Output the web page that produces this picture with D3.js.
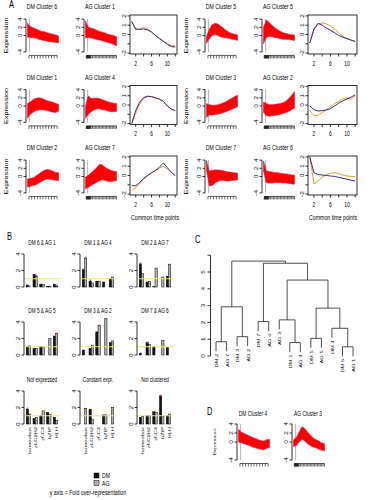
<!DOCTYPE html>
<html>
<head>
<meta charset="utf-8">
<script src="https://cdn.jsdelivr.net/npm/d3@7"></script>
<style>
body { margin: 0; background: #fff; }
svg text { font-family: "Liberation Sans", Arial, sans-serif; }
</style>
</head>
<body>
<script>
// ---- panel A / D : cluster profiles (envelope of the gene lines)
var bandT = [0, 2, 4, 6, 8, 10, 12, 14, 16, 18, 20, 22];
var dmTicks = [1, 3, 5, 7, 9, 11, 13, 15, 17, 19, 21];
var agTicks = [0.5, 0.8, 1.1, 1.4, 1.7, 2.0, 2.3, 2.6, 2.9, 3.2, 3.5, 4, 5, 6, 7, 8, 9, 10, 11, 12, 13, 14, 15, 16, 17, 18, 19, 20, 21, 22];
var stageMark = 1.5;
var clYTicks = [-4, 0, 2, 4];

// DM clusters 1..7
var dmHi = [
  [0.6, 1.0, 1.6, 1.9, 2.0, 1.9, 1.6, 1.3, 1.1, 0.9, 0.6, 0.4],
  [-0.6, -0.5, -0.3, 0.1, 0.6, 1.1, 1.5, 1.7, 1.6, 1.3, 1.0, 0.9],
  [0.6, 0.3, 0.2, 0.2, 0.3, 0.5, 0.8, 1.1, 1.5, 1.9, 2.3, 2.6],
  [2.8, 2.2, 1.9, 1.6, 1.3, 1.0, 0.8, 0.5, 0.3, 0.2, 0.5, 0.6],
  [-0.2, 1.5, 2.6, 3.0, 2.8, 2.3, 1.8, 1.2, 0.8, 0.5, 0.3, 0.1],
  [3.0, 2.2, 1.9, 1.6, 1.3, 1.0, 0.9, 0.7, 0.5, 0.3, 0.1, -0.1],
  [3.9, 1.3, 1.5, 1.6, 1.6, 1.5, 1.4, 1.2, 1.1, 1.0, 0.9, 0.8]
];
var dmLo = [
  [-3.0, -2.0, -1.5, -1.1, -1.0, -0.9, -1.0, -1.1, -1.3, -1.5, -1.6, -1.3],
  [-2.6, -2.4, -2.2, -2.0, -1.6, -1.2, -0.8, -0.6, -0.7, -0.8, -0.9, -1.0],
  [-2.8, -2.2, -2.2, -2.1, -2.0, -1.8, -1.6, -1.4, -1.1, -0.8, -0.5, -0.2],
  [0.0, -0.2, -0.4, -0.6, -0.8, -1.1, -1.3, -1.5, -1.6, -1.7, -1.4, -1.2],
  [-1.9, -0.8, 0.0, 0.3, 0.0, -0.3, -0.5, -0.6, -0.7, -0.9, -1.0, -1.2],
  [-0.4, -0.5, -0.5, -0.7, -0.9, -1.1, -1.2, -1.4, -1.5, -1.6, -1.7, -1.8],
  [1.5, -2.3, -2.2, -1.6, -1.2, -1.0, -1.0, -1.1, -1.1, -1.0, -0.9, -0.8]
];
// AG clusters 1..7
var agHi = [
  [3.5, 2.0, 1.8, 1.6, 1.3, 1.0, 0.8, 0.6, 0.3, 0.1, 0.0, -0.3],
  [1.0, 0.6, 0.3, 0.3, 0.4, 0.5, 0.6, 0.8, 1.2, 1.8, 2.6, 3.5],
  [0.5, 1.0, 2.2, 3.4, 3.0, 2.2, 1.5, 0.9, 0.5, 0.2, -0.2, -0.4],
  [0.0, 2.5, 1.8, 1.9, 1.9, 1.8, 1.5, 1.3, 1.0, 0.8, 0.7, 0.6],
  [2.0, 3.8, 3.2, 2.5, 1.9, 1.4, 1.0, 0.7, 0.5, 0.3, 0.2, 0.1],
  [3.8, 1.4, 1.2, 1.1, 1.0, 0.9, 0.8, 0.7, 0.6, 0.5, 0.4, 0.3],
  [-0.2, 0.3, 0.9, 1.5, 2.2, 3.0, 2.8, 2.2, 1.8, 1.5, 1.3, 1.2]
];
var agLo = [
  [-0.6, -0.5, -0.6, -0.8, -1.0, -1.1, -1.3, -1.5, -1.7, -1.9, -2.2, -2.5],
  [-1.5, -2.3, -2.5, -2.4, -2.3, -2.2, -2.0, -1.8, -1.6, -1.3, -0.9, -0.5],
  [-1.0, -0.8, 0.0, 0.6, 0.2, -0.4, -0.8, -1.1, -1.3, -1.6, -1.8, -2.0],
  [-3.0, -2.0, -1.4, -1.0, -0.7, -0.7, -0.9, -1.0, -1.2, -1.4, -1.4, -1.3],
  [-2.0, -0.5, -0.2, -0.3, -0.5, -0.6, -0.8, -0.9, -0.9, -1.0, -1.1, -1.2],
  [1.2, -1.5, -1.6, -1.6, -1.5, -1.5, -1.5, -1.6, -1.6, -1.7, -1.8, -1.9],
  [-3.0, -2.6, -2.2, -1.8, -1.4, -1.0, -0.8, -1.0, -1.2, -1.2, -1.1, -1.0]
];

// pairs shown in panel A (left group rows, then right group rows)
var pairDM = [6, 1, 2, 5, 3, 7];
var pairAG = [1, 4, 7, 5, 2, 6];
var meanT = [1, 2, 3, 4, 5, 6, 7, 8, 9, 10, 11, 12];
var meanDM = [
  [1.4, 0.5, 0.6, 0.75, 0.6, 0.3, -0.1, -0.4, -0.7, -1.0, -1.2, -1.2],
  [-2.0, -0.9, 0.1, 0.7, 0.9, 0.9, 0.8, 0.6, 0.35, -0.1, -0.4, -0.6],
  [-1.6, -1.3, -0.9, -0.4, -0.05, 0.25, 0.5, 0.8, 1.0, 0.7, 0.3, 0.0],
  [-0.9, 0.5, 1.1, 1.25, 1.15, 0.9, 0.6, 0.2, -0.2, -0.4, -0.6, -0.75],
  [-0.6, -1.15, -1.1, -0.8, -0.5, -0.2, 0.15, 0.4, 0.65, 0.8, 0.6, 1.0],
  [2.0, -0.9, -0.6, -0.2, 0.1, 0.25, 0.3, 0.2, 0.05, -0.05, -0.1, -0.1]
];
var meanAG = [
  [1.4, 0.6, 0.55, 0.6, 0.5, 0.25, -0.1, -0.45, -0.75, -1.05, -1.3, -1.35],
  [-2.0, -0.6, 0.3, 0.8, 0.95, 0.9, 0.75, 0.65, 0.4, -0.1, -0.45, -0.6],
  [-1.1, -1.1, -0.75, -0.3, 0.0, 0.3, 0.55, 0.9, 1.35, 0.85, 0.35, 0.0],
  [-0.9, 0.6, 1.2, 1.0, 0.7, 0.45, 0.2, -0.1, -0.3, -0.45, -0.6, -0.75],
  [-0.1, -0.5, -0.65, -0.6, -0.55, -0.4, -0.1, 0.2, 0.45, 0.65, 0.85, 1.1],
  [2.0, 0.3, 0.1, 0.05, 0.0, -0.05, -0.1, -0.2, -0.3, -0.4, -0.5, -0.6]
];
var meanYTicks = [-2, -1, 0, 1, 2];
var meanYLabels = ["-2", "", "0", "1", "2"];
var meanXTicks = [2, 4, 6, 8, 10, 12];
var meanXLabels = ["2", "", "6", "", "10", ""];

// ---- panel B : fold over-representation of TF families
var barTitles = ["DM 6 & AG 1", "DM 1 & AG 4", "DM 2 & AG 7", "DM 5 & AG 5", "DM 3 & AG 2", "DM 7 & AG 6", "Not expressed", "Constant expr.", "Not clustered"];
var families = ["homeobox", "zf-C2H2", "zf-C4", "bZIP", "HLH"];
var barDM = [
  [0.25, 1.5, 0.35, 0.05, 0.35],
  [2.1, 0.7, 0.7, 0.6, 1.0],
  [2.8, 0.6, 0.05, 0.0, 1.3],
  [1.0, 0.8, 1.0, 0.0, 2.3],
  [0.6, 0.8, 2.8, 0.0, 1.5],
  [0.2, 1.5, 1.0, 0.0, 0.9],
  [1.8, 0.7, 1.0, 1.4, 0.8],
  [0.0, 1.8, 0.0, 1.1, 0.0],
  [0.8, 1.0, 1.5, 3.4, 1.0]
];
var barAG = [
  [0.0, 1.3, 0.3, 0.05, 0.1],
  [3.5, 0.5, 0.7, 0.0, 1.2],
  [1.6, 0.7, 2.3, 1.2, 2.7],
  [1.1, 0.8, 0.95, 2.0, 2.6],
  [0.0, 1.2, 3.6, 4.4, 1.7],
  [0.0, 1.3, 0.0, 1.8, 0.0],
  [1.2, 0.8, 1.6, 1.2, 0.4],
  [1.9, 0.6, 0.0, 1.1, 2.0],
  [0.9, 1.0, 1.4, 0.9, 1.2]
];
// [panel, family, series (0 DM, 1 AG), colour]
var barStars = [
  [0, 0, 1, "blue"], [0, 1, 1, "red"], [0, 4, 1, "blue"],
  [1, 0, 1, "red"], [1, 1, 0, "blue"],
  [2, 0, 0, "red"], [2, 4, 1, "red"],
  [3, 4, 1, "red"],
  [4, 2, 1, "red"],
  [5, 0, 0, "blue"], [5, 1, 0, "red"],
  [6, 0, 0, "red"],
  [8, 3, 0, "red"]
];
var barYTicks = [0, 2, 4];
var foldRef = 1;

// ---- panel C : dendrogram of clusters (R hclust style merge table)
var leafNames = ["DM 2", "AG 7", "DM 3", "AG 2", "DM 7", "AG 6", "AG 3", "DM 1", "AG 4", "DM 5", "AG 5", "DM 4", "DM 6", "AG 1"];
var merges = [[-13, -14], [-8, -9], [-1, -2], [-10, -11], [-3, -4], [-12, 1], [-5, -6], [-7, 2], [4, 6], [3, 5], [8, 9], [7, 11], [10, 12]];
var mergeHeights = [0.55, 0.8, 0.85, 1.05, 1.15, 1.65, 2.05, 2.15, 2.85, 2.93, 4.52, 5.52, 5.65];
var dendroTicks = [0, 1, 2, 3, 4, 5, 6];
var dendroLabels = ["0", "1", "2", "3", "4", "5", ""];

// ---- panel D
var panelDdm = 4, panelDag = 3;

var W = 371, H = 500;
var SX = 0.75; // the figure is squeezed horizontally
var orange = "#e89a2c", blue = "#2e2a8e";

var svg = d3.select("body").append("svg").attr("width", W).attr("height", H);

function label(g, x, y, s, size, anchor, rot, color) {
  return g.append("text")
    .attr("transform", "translate(" + x + "," + y + ") scale(" + SX + ",1)" + (rot ? " rotate(-90)" : ""))
    .attr("font-size", size)
    .attr("text-anchor", anchor || "middle")
    .attr("fill", color || "#000")
    .text(s);
}

function seg(g, x1, y1, x2, y2, col, w) {
  g.append("line").attr("x1", x1).attr("y1", y1).attr("x2", x2).attr("y2", y2)
    .attr("stroke", col || "#000").attr("stroke-width", w || 0.8);
}

function clusterPanel(ax, zeroY, unit, title, hi, lo, ticks, tSize, lSize) {
  var g = svg.append("g");
  var x = d3.scaleLinear().domain([0, 22]).range([ax + 1.5, ax + 32.5]);
  var y = d3.scaleLinear().domain([-4, 4]).range([zeroY + 4 * unit, zeroY - 4 * unit]);
  seg(g, x(stageMark), y(-4), x(stageMark), y(4), "#a0a0a0", 0.8);
  var area = d3.area()
    .x(function(d, i) { return x(bandT[i]); })
    .y0(function(d, i) { return y(lo[i]); })
    .y1(function(d, i) { return y(hi[i]); });
  g.append("path").datum(hi).attr("d", area)
    .attr("fill", "#ff0000").attr("stroke", "#f0104a").attr("stroke-width", 0.6);
  seg(g, ax, y(-4), ax, y(4));
  clYTicks.forEach(function(v) {
    seg(g, ax - 2.5, y(v), ax, y(v));
    label(g, ax - 4, y(v), String(v), lSize, "middle", true);
  });
  var ty = y(-4) + 3.5;
  seg(g, x(ticks[0]), ty, x(ticks[ticks.length - 1]), ty, "#000", 0.6);
  ticks.forEach(function(t) { seg(g, x(t), ty, x(t), ty + 3, "#000", 0.6); });
  label(g, ax + 16, zeroY - 26.5, title, tSize, "middle");
}

function meanPanel(bx0, bx1, top, bot, dm, ag) {
  var g = svg.append("g");
  var x = d3.scaleLinear().domain([0.56, 12.44]).range([bx0, bx1]);
  var y = d3.scaleLinear().domain([-2.1, 2.1]).range([bot, top]);
  var line = d3.line().x(function(d, i) { return x(meanT[i]); }).y(function(d) { return y(d); });
  g.append("path").datum(dm).attr("d", line).attr("fill", "none").attr("stroke", orange).attr("stroke-width", 1);
  g.append("path").datum(ag).attr("d", line).attr("fill", "none").attr("stroke", blue).attr("stroke-width", 1);
  g.append("rect").attr("x", bx0).attr("y", top).attr("width", bx1 - bx0).attr("height", bot - top)
    .attr("fill", "none").attr("stroke", "#000").attr("stroke-width", 0.8);
  meanYTicks.forEach(function(v, i) {
    seg(g, bx0 - 2.5, y(v), bx0, y(v));
    if (meanYLabels[i]) label(g, bx0 - 4, y(v), meanYLabels[i], 6.5, "middle", true);
  });
  meanXTicks.forEach(function(v, i) {
    seg(g, x(v), bot, x(v), bot + 2.5);
    if (meanXLabels[i]) label(g, x(v), bot + 11.5, meanXLabels[i], 6.5, "middle");
  });
}

// ---------------- panel A
label(svg, 9, 8, "A", 10, "start");
var groups = [
  { dm: 26, ag: 84, box: [130, 177], lab: 155 },
  { dm: 205, ag: 262, box: [308, 357], lab: 333 }
];
groups.forEach(function(gr, gi) {
  for (var r = 0; r < 3; r++) {
    var k = gi * 3 + r;
    var zero = 35.5 + 70.5 * r;
    clusterPanel(gr.dm, zero, 4.1, "DM Cluster " + pairDM[k], dmHi[pairDM[k] - 1], dmLo[pairDM[k] - 1], dmTicks, 7, 6.5);
    clusterPanel(gr.ag, zero, 4.1, "AG Cluster " + pairAG[k], agHi[pairAG[k] - 1], agLo[pairAG[k] - 1], agTicks, 7, 6.5);
    meanPanel(gr.box[0], gr.box[1], 15 + 70.5 * r, 54 + 70.5 * r, meanDM[k], meanAG[k]);
  }
  label(svg, gr.lab, 220, "Common time points", 7, "middle");
});
for (var r = 0; r < 3; r++) {
  label(svg, 7.5, 35.5 + 70.5 * r, "Expression", 7.3, "middle", true);
  label(svg, 188, 35.5 + 70.5 * r, "Expression", 7.3, "middle", true);
}

// ---------------- panel B
label(svg, 7, 240, "B", 10, "start");
var U = 2.25;
var colX = [24, 80, 137];
var rowZero = [287, 355, 424];
function barPanel(x0, zeroY, k, showCats) {
  var g = svg.append("g");
  var xb = d3.scaleBand().domain(families).range([x0, x0 + 16 * U]).paddingInner(1 / 3).paddingOuter(1 / 3);
  var xs = d3.scaleBand().domain([0, 1]).range([0, xb.bandwidth()]);
  var y = d3.scaleLinear().domain([0, 4]).range([zeroY, zeroY - 33]);
  var vals = [barDM[k], barAG[k]];
  [0, 1].forEach(function(s) {
    g.selectAll(null).data(vals[s]).enter().append("rect")
      .attr("x", function(d, i) { return xb(families[i]) + xs(s); })
      .attr("y", function(d) { return y(d); })
      .attr("width", xs.bandwidth())
      .attr("height", function(d) { return zeroY - y(d); })
      .attr("fill", s === 0 ? "#151515" : "#b0b0b0")
      .attr("stroke", "#000").attr("stroke-width", 0.5);
  });
  seg(g, x0, y(foldRef), x0 + 16 * U, y(foldRef), "#ecec70", 1.2);
  seg(g, x0, y(0), x0, y(4));
  barYTicks.forEach(function(v) {
    seg(g, x0 - 2.5, y(v), x0, y(v));
    label(g, x0 - 4, y(v), String(v), 6, "middle", true);
  });
  barStars.filter(function(s) { return s[0] === k; }).forEach(function(s) {
    var v = vals[s[2]][s[1]];
    label(g, xb(families[s[1]]) + xs(s[2]) + xs.bandwidth() / 2, y(v) + 3.2, "*", 8, "middle", false,
      s[3] === "red" ? "#d0384c" : "#3a40c8");
  });
  label(g, x0 + 8 * U, zeroY - 42, barTitles[k], 6.3, "middle");
  if (showCats) {
    families.forEach(function(f) {
      label(g, xb(f) + xb.bandwidth() / 2 + 2, zeroY + 3, f, 5.8, "end", true);
    });
  }
}
for (var br = 0; br < 3; br++) {
  for (var bc = 0; bc < 3; bc++) {
    barPanel(colX[bc], rowZero[br], br * 3 + bc, br === 2);
  }
}
svg.append("rect").attr("x", 94).attr("y", 473).attr("width", 5).attr("height", 5).attr("fill", "#151515").attr("stroke", "#000").attr("stroke-width", 0.5);
svg.append("rect").attr("x", 94).attr("y", 480.5).attr("width", 5).attr("height", 5).attr("fill", "#b0b0b0").attr("stroke", "#000").attr("stroke-width", 0.5);
label(svg, 102, 478.3, "DM", 6.8, "start");
label(svg, 102, 485.8, "AG", 6.8, "start");
label(svg, 88, 495, "y axis = Fold over-representation", 7, "middle");

// ---------------- panel C
label(svg, 195, 243, "C", 10, "start");
(function() {
  var g = svg.append("g");
  var dx = d3.scaleLinear().domain([1, 14]).range([216, 353]);
  var dy = d3.scaleLinear().domain([0, 6]).range([356, 255.2]);
  var hang = 0.1 * d3.max(mergeHeights);
  var nodeX = [];
  seg(g, 210.5, dy(0), 210.5, dy(6));
  dendroTicks.forEach(function(v, i) {
    seg(g, 207.5, dy(v), 210.5, dy(v));
    if (dendroLabels[i]) label(g, 205, dy(v), dendroLabels[i], 6.3, "middle", true);
  });
  merges.forEach(function(m, i) {
    var h = mergeHeights[i];
    var xs = m.map(function(c) { return c < 0 ? dx(-c) : nodeX[c - 1]; });
    var tops = m.map(function(c) { return c < 0 ? h - hang : mergeHeights[c - 1]; });
    nodeX[i] = (xs[0] + xs[1]) / 2;
    seg(g, xs[0], dy(h), xs[1], dy(h), "#222", 0.8);
    for (var j = 0; j < 2; j++) {
      seg(g, xs[j], dy(tops[j]), xs[j], dy(h), "#222", 0.8);
      if (m[j] < 0) label(g, xs[j] + 2, dy(h - hang) + 2.5, leafNames[-m[j] - 1], 5.8, "end", true);
    }
  });
})();

// ---------------- panel D
label(svg, 207, 415, "D", 10, "start");
clusterPanel(237, 442, 4.5, "DM Cluster " + panelDdm, dmHi[panelDdm - 1], dmLo[panelDdm - 1], dmTicks, 6.5, 6.5);
clusterPanel(292, 442, 4.5, "AG Cluster " + panelDag, agHi[panelDag - 1], agLo[panelDag - 1], agTicks, 6.5, 6.5);
label(svg, 216, 442, "Expression", 5.5, "middle", true);
</script>
</body>
</html>
